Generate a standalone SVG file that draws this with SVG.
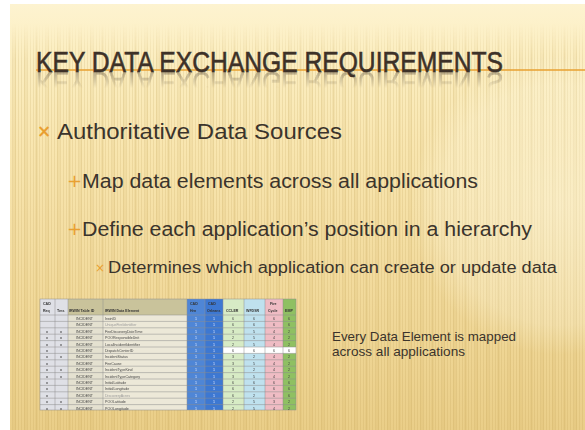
<svg xmlns="http://www.w3.org/2000/svg" width="585" height="430" viewBox="0 0 585 430">
  <defs>
    <linearGradient id="bg" x1="0" y1="4" x2="0" y2="430" gradientUnits="userSpaceOnUse">
      <stop offset="0" stop-color="#fdf3d0"/>
      <stop offset="0.1" stop-color="#fcefc3"/>
      <stop offset="0.35" stop-color="#f8e5ae"/>
      <stop offset="0.7" stop-color="#f1d99a"/>
      <stop offset="1" stop-color="#eace88"/>
    </linearGradient>
    <pattern id="stripes" width="3" height="12" patternUnits="userSpaceOnUse">
      <rect x="0" y="0" width="1" height="12" fill="#b08c40" opacity="0.15"/>
    </pattern>
    <pattern id="streaks" width="11" height="12" patternUnits="userSpaceOnUse">
      <rect x="2" y="0" width="3" height="12" fill="#c9a24e" opacity="0.11"/>
    </pattern>
    <linearGradient id="fadeTop" x1="0" y1="4" x2="0" y2="60" gradientUnits="userSpaceOnUse">
      <stop offset="0" stop-color="#000"/>
      <stop offset="0.35" stop-color="#000"/>
      <stop offset="1" stop-color="#fff"/>
    </linearGradient>
    <mask id="stripeMask" maskUnits="userSpaceOnUse" x="0" y="0" width="585" height="430">
      <rect x="0" y="0" width="585" height="430" fill="url(#fadeTop)"/>
    </mask>
    <radialGradient id="glow" cx="560" cy="205" r="150" gradientUnits="userSpaceOnUse">
      <stop offset="0" stop-color="#fffbe8" stop-opacity="0.45"/>
      <stop offset="0.8" stop-color="#fffbe8" stop-opacity="0.25"/>
      <stop offset="1" stop-color="#fffbe8" stop-opacity="0"/>
    </radialGradient>
    <linearGradient id="reflFade" x1="0" y1="72" x2="0" y2="88" gradientUnits="userSpaceOnUse">
      <stop offset="0" stop-color="#fff" stop-opacity="0.7"/>
      <stop offset="1" stop-color="#fff" stop-opacity="0"/>
    </linearGradient>
    <mask id="reflMask" maskUnits="userSpaceOnUse" x="0" y="60" width="585" height="40">
      <rect x="0" y="72" width="585" height="18" fill="url(#reflFade)"/>
    </mask>
    <filter id="soft" x="-5%" y="-5%" width="110%" height="110%">
      <feGaussianBlur stdDeviation="0.6"/>
    </filter>
    <style>
      .title { font-family: "Liberation Sans", Arial, sans-serif; font-size: 29px; fill: #3d3128; stroke: #3d3128; stroke-width: 0.6; }
      .body { font-family: "Liberation Sans", Arial, sans-serif; fill: #3b342c; }
      .mark { font-family: "DejaVu Sans", sans-serif; fill: #e9a032; }
      .cell { font-family: "Liberation Sans", Arial, sans-serif; font-size: 3.6px; fill: #444; }
      .hdr { font-family: "Liberation Sans", Arial, sans-serif; font-size: 3.6px; font-weight: bold; fill: #333; }
      .grid { stroke: #8d8d8d; stroke-width: 0.5; fill: none; }
    </style>
  </defs>

  <!-- page edge -->
  <rect x="0" y="0" width="585" height="430" fill="#ffffff"/>

  <!-- slide background -->
  <g id="background">
    <rect x="10" y="4" width="575" height="426" fill="url(#bg)"/>
    <g mask="url(#stripeMask)">
      <rect x="10" y="4" width="575" height="426" fill="url(#stripes)"/>
      <rect x="10" y="4" width="575" height="426" fill="url(#streaks)"/>
    </g>
    <rect x="400" y="50" width="185" height="310" fill="url(#glow)"/>
  </g>

  <!-- title with its mirrored fade -->
  <g id="title">
    <g mask="url(#reflMask)">
      <text class="title" x="36" y="72" textLength="467" lengthAdjust="spacingAndGlyphs" transform="translate(0,144) scale(1,-1)" opacity="0.5">KEY DATA EXCHANGE REQUIREMENTS</text>
    </g>
    <line x1="36" y1="70" x2="585" y2="70" stroke="#e8a030" stroke-width="1.6"/>
    <text class="title" x="36" y="72" textLength="467" lengthAdjust="spacingAndGlyphs">KEY DATA EXCHANGE REQUIREMENTS</text>
  </g>

  <!-- bullet list -->
  <g id="bullets">
    <text class="mark" x="37" y="137" font-size="17" font-weight="bold">×</text>
    <text class="body" x="57" y="139" font-size="22" textLength="285" lengthAdjust="spacingAndGlyphs">Authoritative Data Sources</text>

    <text class="mark" x="67" y="187" font-size="18">+</text>
    <text class="body" x="82" y="188" font-size="20" textLength="396" lengthAdjust="spacingAndGlyphs">Map data elements across all applications</text>

    <text class="mark" x="67" y="235" font-size="18">+</text>
    <text class="body" x="82" y="236" font-size="20" textLength="450" lengthAdjust="spacingAndGlyphs">Define each application’s position in a hierarchy</text>

    <text class="mark" x="95" y="272" font-size="12">×</text>
    <text class="body" x="108" y="273" font-size="16" textLength="449" lengthAdjust="spacingAndGlyphs">Determines which application can create or update data</text>
  </g>

  <!-- mapping table -->
  <g id="mapping-table" filter="url(#soft)">
    <!-- column fills -->
    <rect x="40" y="299" width="28" height="111" fill="#dfe0e6"/>
    <rect x="68" y="299" width="119" height="16" fill="#c9c39b"/>
    <rect x="68" y="315" width="35" height="95" fill="#e4e1d0"/>
    <rect x="103" y="315" width="84" height="95" fill="#ece8d8"/>
    <rect x="187" y="299" width="18" height="111" fill="#4f86d6"/>
    <rect x="205" y="299" width="18" height="111" fill="#3e78d2"/>
    <rect x="223" y="299" width="21" height="111" fill="#d7ebc5"/>
    <rect x="244" y="299" width="21" height="111" fill="#bfe1ee"/>
    <rect x="265" y="299" width="18" height="111" fill="#efbcc4"/>
    <rect x="283" y="299" width="13" height="111" fill="#8fc062"/>
    <!-- white row in the right-hand columns -->
    <rect x="223" y="347" width="73" height="6.4" fill="#ffffff"/>
    <!-- grid -->
    <g class="grid">
      <rect x="40" y="299" width="256" height="111"/>
      <path d="M55 299V410M68 299V410M103 299V410M187 299V410M205 299V410M223 299V410M244 299V410M265 299V410M283 299V410"/>
      <path d="M40 315H296M40 321.4H296M40 327.8H296M40 334.2H296M40 340.6H296M40 347H296M40 353.4H296M40 359.8H296M40 366.2H296M40 372.6H296M40 379H296M40 385.4H296M40 391.8H296M40 398.2H296M40 404.6H296"/>
    </g>
    <!-- headers -->
    <text class="hdr" x="43" y="305">CAD</text>
    <text class="hdr" x="43" y="312">Req</text>
    <text class="hdr" x="57" y="312">Tms</text>
    <text class="hdr" x="69" y="312">IRWIN Table ID</text>
    <text class="hdr" x="105" y="312">IRWIN Data Element</text>
    <text class="hdr" x="190" y="305" fill="#eef">CAD</text>
    <text class="hdr" x="190" y="312" fill="#eef">Hrn</text>
    <text class="hdr" x="208" y="305" fill="#eef">CAD</text>
    <text class="hdr" x="207" y="312" fill="#eef">Orleans</text>
    <text class="hdr" x="226" y="312">CCLER</text>
    <text class="hdr" x="246" y="312">WFDSR</text>
    <text class="hdr" x="270" y="305">Fire</text>
    <text class="hdr" x="268" y="312">Cycle</text>
    <text class="hdr" x="285" y="312">EMP</text>
    <!-- element names -->
    <g class="cell">
      <text x="105" y="320">IrwinID</text>
      <text x="105" y="326.4" fill="#999">UniqueFireIdentifier</text>
      <text x="105" y="332.8">FireDiscoveryDateTime</text>
      <text x="105" y="339.2">POOResponsibleUnit</text>
      <text x="105" y="345.6">LocalIncidentIdentifier</text>
      <text x="105" y="352">DispatchCenterID</text>
      <text x="105" y="358.4">IncidentStatus</text>
      <text x="105" y="364.8">FireCause</text>
      <text x="105" y="371.2">IncidentTypeKind</text>
      <text x="105" y="377.6">IncidentTypeCategory</text>
      <text x="105" y="384">InitialLatitude</text>
      <text x="105" y="390.4">InitialLongitude</text>
      <text x="105" y="396.8" fill="#999">DiscoveryAcres</text>
      <text x="105" y="403.2">POOLatitude</text>
      <text x="105" y="409.6">POOLongitude</text>
    </g>
    <!-- table ids -->
    <g class="cell" fill="#777">
      <text x="76" y="320">INCIDENT</text>
      <text x="76" y="326.4">INCIDENT</text>
      <text x="76" y="332.8">INCIDENT</text>
      <text x="76" y="339.2">INCIDENT</text>
      <text x="76" y="345.6">INCIDENT</text>
      <text x="76" y="352">INCIDENT</text>
      <text x="76" y="358.4">INCIDENT</text>
      <text x="76" y="364.8">INCIDENT</text>
      <text x="76" y="371.2">INCIDENT</text>
      <text x="76" y="377.6">INCIDENT</text>
      <text x="76" y="384">INCIDENT</text>
      <text x="76" y="390.4">INCIDENT</text>
      <text x="76" y="396.8">INCIDENT</text>
      <text x="76" y="403.2">INCIDENT</text>
      <text x="76" y="409.6">INCIDENT</text>
    </g>
    <!-- requirement marks -->
    <g class="cell" font-weight="bold">
      <text x="46" y="332.8">x</text><text x="60" y="332.8">x</text>
      <text x="46" y="339.2">x</text><text x="60" y="339.2">x</text>
      <text x="46" y="345.6">x</text><text x="60" y="345.6">x</text>
      <text x="46" y="352">x</text>
      <text x="46" y="358.4">x</text><text x="60" y="358.4">x</text>
      <text x="46" y="364.8">x</text>
      <text x="46" y="371.2">x</text><text x="60" y="371.2">x</text>
      <text x="46" y="377.6">x</text><text x="60" y="377.6">x</text>
      <text x="46" y="384">x</text>
      <text x="46" y="390.4">x</text>
      <text x="46" y="396.8">x</text>
      <text x="46" y="403.2">x</text><text x="60" y="403.2">x</text>
      <text x="46" y="409.6">x</text><text x="60" y="409.6">x</text>
    </g>
    <!-- rank numbers -->
    <g class="cell" text-anchor="middle">
      <g fill="#dde8ff">
        <text x="196" y="320">1</text><text x="214" y="320">1</text>
        <text x="196" y="326.4">1</text><text x="214" y="326.4">1</text>
        <text x="196" y="332.8">1</text><text x="214" y="332.8">1</text>
        <text x="196" y="339.2">1</text><text x="214" y="339.2">1</text>
        <text x="196" y="345.6">1</text><text x="214" y="345.6">1</text>
        <text x="196" y="352">1</text><text x="214" y="352">1</text>
        <text x="196" y="358.4">1</text><text x="214" y="358.4">1</text>
        <text x="196" y="364.8">1</text><text x="214" y="364.8">1</text>
        <text x="196" y="371.2">1</text><text x="214" y="371.2">1</text>
        <text x="196" y="377.6">1</text><text x="214" y="377.6">1</text>
        <text x="196" y="384">1</text><text x="214" y="384">1</text>
        <text x="196" y="390.4">1</text><text x="214" y="390.4">1</text>
        <text x="196" y="396.8">1</text><text x="214" y="396.8">1</text>
        <text x="196" y="403.2">1</text><text x="214" y="403.2">1</text>
        <text x="196" y="409.6">1</text><text x="214" y="409.6">1</text>
      </g>
      <text x="233" y="320">6</text><text x="254" y="320">6</text><text x="274" y="320">6</text><text x="289" y="320">6</text>
      <text x="233" y="326.4">6</text><text x="254" y="326.4">6</text><text x="274" y="326.4">6</text><text x="289" y="326.4">6</text>
      <text x="233" y="332.8">3</text><text x="254" y="332.8">5</text><text x="274" y="332.8">4</text><text x="289" y="332.8">2</text>
      <text x="233" y="339.2">2</text><text x="254" y="339.2">5</text><text x="274" y="339.2">4</text><text x="289" y="339.2">2</text>
      <text x="233" y="345.6">2</text><text x="254" y="345.6">5</text><text x="274" y="345.6">4</text><text x="289" y="345.6">2</text>
      <text x="233" y="352">6</text><text x="254" y="352">6</text><text x="274" y="352">6</text><text x="289" y="352">6</text>
      <text x="233" y="358.4">3</text><text x="254" y="358.4">2</text><text x="274" y="358.4">4</text><text x="289" y="358.4">2</text>
      <text x="233" y="364.8">3</text><text x="254" y="364.8">5</text><text x="274" y="364.8">4</text><text x="289" y="364.8">2</text>
      <text x="233" y="371.2">3</text><text x="254" y="371.2">2</text><text x="274" y="371.2">4</text><text x="289" y="371.2">2</text>
      <text x="233" y="377.6">3</text><text x="254" y="377.6">5</text><text x="274" y="377.6">4</text><text x="289" y="377.6">2</text>
      <text x="233" y="384">6</text><text x="254" y="384">6</text><text x="274" y="384">6</text><text x="289" y="384">6</text>
      <text x="233" y="390.4">6</text><text x="254" y="390.4">6</text><text x="274" y="390.4">6</text><text x="289" y="390.4">6</text>
      <text x="233" y="396.8">6</text><text x="254" y="396.8">2</text><text x="274" y="396.8">6</text><text x="289" y="396.8">6</text>
      <text x="233" y="403.2">2</text><text x="254" y="403.2">5</text><text x="274" y="403.2">3</text><text x="289" y="403.2">2</text>
      <text x="233" y="409.6">2</text><text x="254" y="409.6">5</text><text x="274" y="409.6">4</text><text x="289" y="409.6">2</text>
    </g>
  </g>

  <!-- caption -->
  <g id="caption">
    <text class="body" x="332" y="341" font-size="13" textLength="184" lengthAdjust="spacingAndGlyphs" fill="#222">Every Data Element is mapped</text>
    <text class="body" x="332" y="356" font-size="13" textLength="133" lengthAdjust="spacingAndGlyphs" fill="#222">across all applications</text>
  </g>
</svg>
